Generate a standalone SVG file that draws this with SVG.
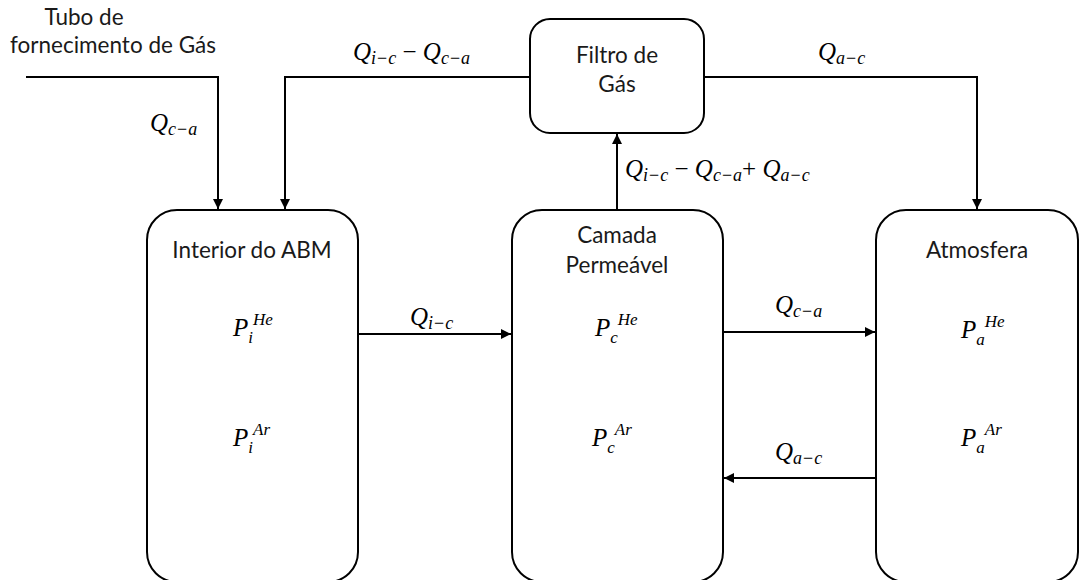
<svg xmlns="http://www.w3.org/2000/svg" width="1080" height="580" viewBox="0 0 1080 580">
<style>
.box{fill:#fff;stroke:#000;stroke-width:2}
.ln{fill:none;stroke:#000;stroke-width:2}
.t{font-family:Lato,"Open Sans","Liberation Sans",sans-serif;font-size:22.5px;fill:#1a1a1a;text-anchor:middle}
.m{font-family:"Liberation Serif","DejaVu Serif",serif;font-style:italic;font-size:25px;fill:#000}
.s{font-size:18px}
.p{font-size:17px}
.u{font-style:normal}
</style>
<defs>
<marker id="ah" viewBox="0 0 10 10" refX="10" refY="5" markerWidth="5" markerHeight="5" orient="auto" markerUnits="strokeWidth">
<path d="M0,0 L10,5 L0,10 z" fill="#000"/>
</marker>
</defs>
<rect width="1080" height="580" fill="#fff"/>
<g id="connectors">
<path class="ln" d="M26,77 H218 V209" marker-end="url(#ah)"/>
<path class="ln" d="M530,77 H285 V209" marker-end="url(#ah)"/>
<path class="ln" d="M704,77 H977 V209" marker-end="url(#ah)"/>
<path class="ln" d="M617,210 V134" marker-end="url(#ah)"/>
<path class="ln" d="M358,334 H511" marker-end="url(#ah)"/>
<path class="ln" d="M723,332 H875" marker-end="url(#ah)"/>
<path class="ln" d="M876,478 H724" marker-end="url(#ah)"/>
</g>
<g id="supply">
<text class="t"><tspan x="84" y="25">Tubo de</tspan><tspan x="113" y="53">fornecimento de Gás</tspan></text>
</g>
<g id="filtro">
<rect class="box" x="530" y="19" width="174" height="114" rx="20"/>
<text class="t"><tspan x="617" y="63">Filtro de</tspan><tspan x="617" y="92">Gás</tspan></text>
</g>
<g id="interior">
<rect class="box" x="147" y="210" width="211" height="372" rx="30"/>
<text class="t" x="252" y="258">Interior do ABM</text>
<text class="m" x="233" y="336">P<tspan class="p" dy="7">i</tspan><tspan class="p" dy="-18">He</tspan></text>
<text class="m" x="233" y="446">P<tspan class="p" dy="7">i</tspan><tspan class="p" dy="-18">Ar</tspan></text>
</g>
<g id="camada">
<rect class="box" x="512" y="210" width="211" height="372" rx="30"/>
<text class="t"><tspan x="617" y="243">Camada</tspan><tspan x="617" y="273">Permeável</tspan></text>
<text class="m" x="595" y="336">P<tspan class="p" dy="7">c</tspan><tspan class="p" dy="-18">He</tspan></text>
<text class="m" x="592" y="446">P<tspan class="p" dy="7">c</tspan><tspan class="p" dy="-18">Ar</tspan></text>
</g>
<g id="atmosfera">
<rect class="box" x="876" y="210" width="202" height="372" rx="30"/>
<text class="t" x="977" y="258">Atmosfera</text>
<text class="m" x="961" y="338">P<tspan class="p" dy="7">a</tspan><tspan class="p" dy="-18">He</tspan></text>
<text class="m" x="961" y="446">P<tspan class="p" dy="7">a</tspan><tspan class="p" dy="-18">Ar</tspan></text>
</g>
<g id="labels">
<text class="m" x="150" y="131">Q<tspan class="s" dy="4">c<tspan class="u" dx="1">−</tspan><tspan dx="1">a</tspan></tspan></text>
<text class="m" x="353" y="60">Q<tspan class="s" dy="4">i<tspan class="u" dx="1">−</tspan><tspan dx="1">c</tspan></tspan><tspan class="u" dy="-4"> − </tspan>Q<tspan class="s" dy="4">c<tspan class="u" dx="1">−</tspan><tspan dx="1">a</tspan></tspan></text>
<text class="m" x="818" y="60">Q<tspan class="s" dy="4">a<tspan class="u" dx="1">−</tspan><tspan dx="1">c</tspan></tspan></text>
<text class="m" x="625" y="177">Q<tspan class="s" dy="4">i<tspan class="u" dx="1">−</tspan><tspan dx="1">c</tspan></tspan><tspan class="u" dy="-4"> − </tspan>Q<tspan class="s" dy="4">c<tspan class="u" dx="1">−</tspan><tspan dx="1">a</tspan></tspan><tspan class="u" dy="-4">+ </tspan>Q<tspan class="s" dy="4">a<tspan class="u" dx="1">−</tspan><tspan dx="1">c</tspan></tspan></text>
<text class="m" x="410" y="325">Q<tspan class="s" dy="4">i<tspan class="u" dx="1">−</tspan><tspan dx="1">c</tspan></tspan></text>
<text class="m" x="775" y="313">Q<tspan class="s" dy="4">c<tspan class="u" dx="1">−</tspan><tspan dx="1">a</tspan></tspan></text>
<text class="m" x="775" y="460">Q<tspan class="s" dy="4">a<tspan class="u" dx="1">−</tspan><tspan dx="1">c</tspan></tspan></text>
</g>
</svg>
